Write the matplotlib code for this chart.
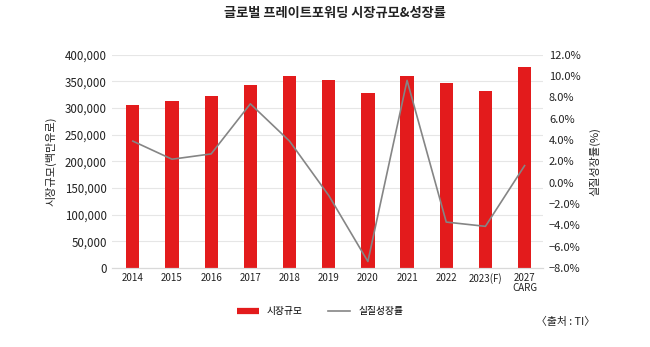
import matplotlib
matplotlib.use("Agg")
import matplotlib.pyplot as plt
from matplotlib.ticker import FuncFormatter, MultipleLocator
from matplotlib.lines import Line2D

plt.rcParams['font.family'] = ['Noto Sans CJK KR', 'DejaVu Sans']

categories = ["2014", "2015", "2016", "2017", "2018", "2019", "2020", "2021", "2022", "2023(F)", "2027\nCARG"]
market_size = [305000, 314000, 322000, 344000, 360000, 353000, 329000, 361000, 347000, 333000, 377000]
growth_rate = [3.9, 2.2, 2.7, 7.4, 3.9, -1.2, -7.4, 9.6, -3.7, -4.1, 1.6]

RED = "#e31b1c"
GRAY = "#858585"

fig = plt.figure(figsize=(6.5, 3.47), dpi=100)
ax = fig.add_axes([0.173, 0.228, 0.663, 0.614])
ax2 = ax.twinx()

x = list(range(len(categories)))
bars = ax.bar(x, market_size, width=0.34, color=RED, label="시장규모", zorder=2)
line, = ax2.plot(x, growth_rate, color=GRAY, lw=1.2, label="실질성장률", zorder=3)

ax.set_ylim(0, 400000)
ax.yaxis.set_major_locator(MultipleLocator(50000))
ax.yaxis.set_major_formatter(FuncFormatter(lambda v, p: f"{int(v):,}"))
ax2.set_ylim(-8, 12)
ax2.yaxis.set_major_locator(MultipleLocator(2))
ax2.yaxis.set_major_formatter(FuncFormatter(lambda v, p: f"{v:.1f}%".replace("-", "−")))

ax.set_xlim(-0.52, len(categories) - 0.52)
ax.set_xticks(x)
ax.set_xticklabels(categories, fontsize=7, color="#222222", linespacing=0.9)

ax.grid(axis="y", color="#e6e6e6", lw=0.8, zorder=0)
ax.set_axisbelow(True)
for a in (ax, ax2):
    for s in ["top", "left", "right"]:
        a.spines[s].set_visible(False)
    a.spines["bottom"].set_color("#d9d9d9")
    a.tick_params(length=0, colors="#222222")
ax.tick_params(axis="x", pad=4, labelsize=7)
ax.tick_params(axis="y", pad=4, labelsize=8.3)
ax2.tick_params(axis="y", pad=4, labelsize=8)

ax.set_ylabel("시장규모(백만유로)", fontsize=8, color="#222222", labelpad=6)
ax2.set_ylabel("실질성장률(%)", fontsize=8, color="#222222", labelpad=6, rotation=90)

fig.text(0.515, 0.962, "글로벌 프레이트포워딩 시장규모&성장률", ha="center", va="center",
         fontsize=9.5, fontweight="bold", color="#222222")

handles = [Line2D([], [], color=RED, lw=4.5, solid_capstyle="butt"),
           Line2D([], [], color=GRAY, lw=1.2)]
fig.legend(handles, ["시장규모", "실질성장률"], loc="center", bbox_to_anchor=(0.492, 0.103),
           ncol=2, frameon=False, fontsize=7, handlelength=2.3, columnspacing=2.6,
           handletextpad=0.8)

fig.text(0.916, 0.072, "〈출처 : TI〉", ha="right", va="center", fontsize=7.8, color="#222222")

fig.savefig("out.png", dpi=100)
